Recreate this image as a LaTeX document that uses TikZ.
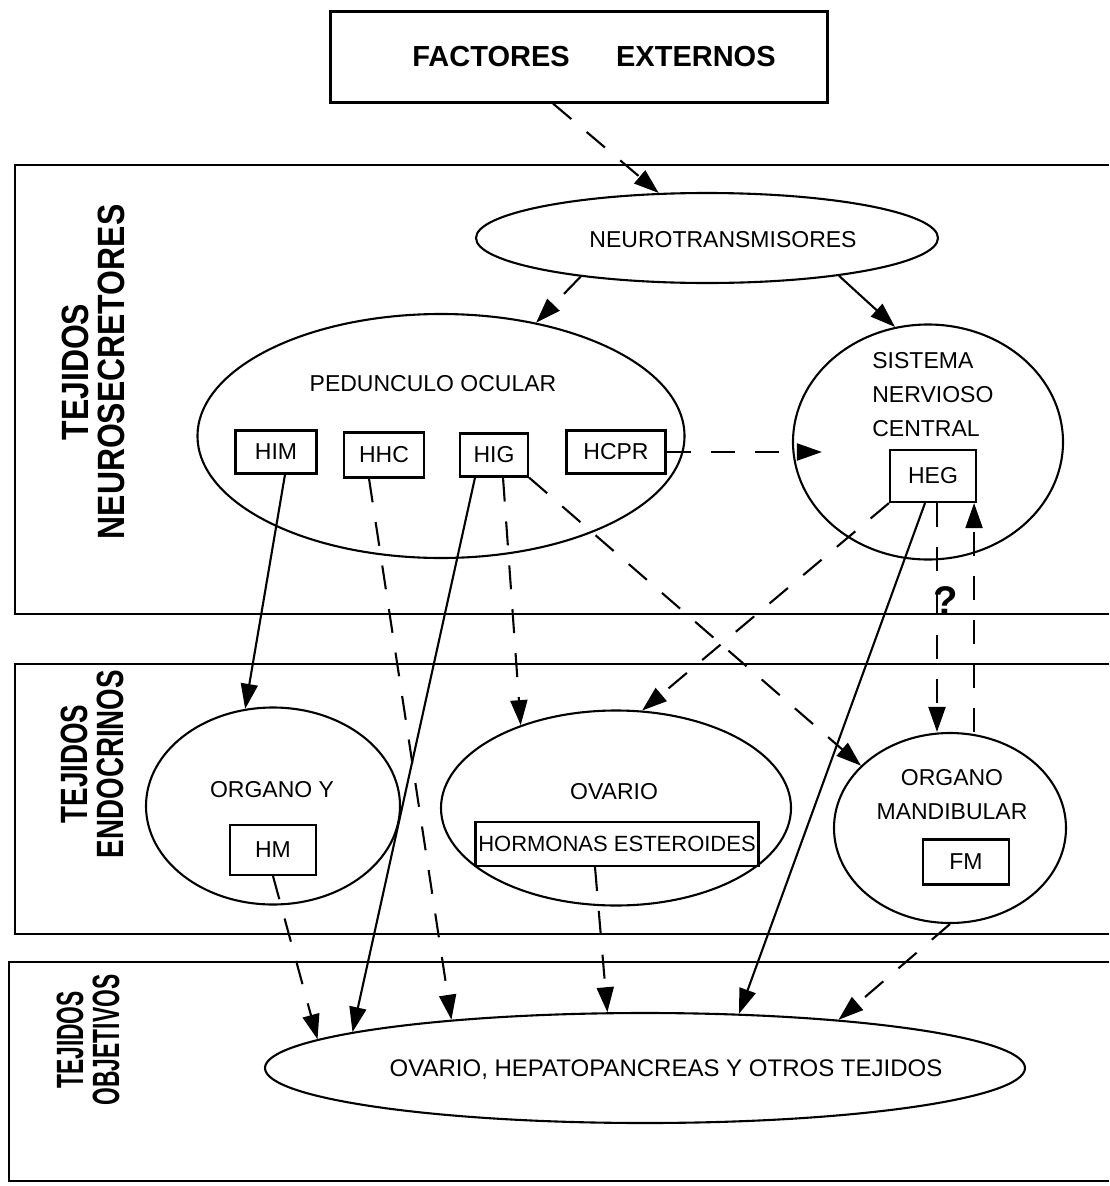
\documentclass[tikz,border=0pt]{standalone}
\usepackage{graphicx}
\usepackage{fontspec}
\setmainfont{Liberation Sans}
\usetikzlibrary{shapes.geometric, arrows.meta, positioning}

\tikzstyle{ovalnode} = [ellipse, draw, inner sep=0pt]
\tikzstyle{hormbox} = [rectangle, draw, inner sep=0pt, font=\fontsize{23}{27}\selectfont]
\tikzstyle{labeltext} = [align=center, font=\fontsize{23}{34}\selectfont]
\tikzstyle{bandtext} = [rotate=90, align=center, font=\bfseries\fontsize{38}{36}\selectfont]
\tikzstyle{dashline} = [dash pattern=on 24pt off 20pt]

\newcommand{\narrow}[2]{\scalebox{#1}[1]{#2}}

\begin{document}
\begin{tikzpicture}[x=1pt, y=-1pt, line width=2.1pt, >={Triangle[length=25pt, width=17pt]}]
        \useasboundingbox (0,0) rectangle (1109,1186);

        % bandas
        \draw (1109,165) -| (15,614) -- (1109,614);
        \draw (1109,664) -| (15,934) -- (1109,934);
        \draw (1109,962) -| (9,1181) -- (1109,1181);
        \node [bandtext] (band1) at (93,372) {\narrow{0.84}{TEJIDOS}\\\narrow{0.84}{NEUROSECRETORES}};
        \node [bandtext] (band2) at (92,764) {\narrow{0.73}{TEJIDOS}\\\narrow{0.73}{ENDOCRINOS}};
        \node [bandtext] (band3) at (88,1040) {\narrow{0.6}{TEJIDOS}\\\narrow{0.6}{OBJETIVOS}};

        \node [draw, minimum width=497pt, minimum height=91pt, font=\bfseries\fontsize{29}{33}\selectfont] (fact) at (579,57) {\hspace*{30pt}FACTORES\hspace{1.6em}EXTERNOS};

        \node [ovalnode, minimum width=462pt, minimum height=90pt] (neuro) at (707,238) {};
        \node [labeltext] (neurotxt) at (723,240) {NEUROTRANSMISORES};

        \node [ovalnode, minimum width=487pt, minimum height=244pt] (ped) at (441,436) {};
        \node [labeltext] (pedtxt) at (433,384) {PEDUNCULO OCULAR};
        \node [hormbox, minimum width=81pt, minimum height=43pt] (him) at (276,452) {HIM};
        \node [hormbox, minimum width=80pt, minimum height=45pt] (hhc) at (384,455) {HHC};
        \node [hormbox, minimum width=68pt, minimum height=43pt] (hig) at (494,455) {HIG};
        \node [hormbox, minimum width=99pt, minimum height=43pt] (hcpr) at (616,452) {HCPR};

        \node [ovalnode, minimum width=270pt, minimum height=235pt] (snc) at (928,442) {};
        \node [labeltext, align=left, anchor=west] (snctxt) at (868,395) {SISTEMA\\NERVIOSO\\CENTRAL};
        \node [hormbox, minimum width=86pt, minimum height=52pt] (heg) at (933,476) {HEG};

        \node [ovalnode, minimum width=254pt, minimum height=197pt] (orgy) at (273,806) {};
        \node [labeltext] (orgytxt) at (272,790) {ORGANO Y};
        \node [hormbox, minimum width=86pt, minimum height=50pt] (hm) at (273,850) {HM};

        \node [ovalnode, minimum width=350pt, minimum height=195pt] (ova) at (616,808) {};
        \node [labeltext] (ovatxt) at (614,792) {OVARIO};
        \node [hormbox, minimum width=283pt, minimum height=44pt, font=\fontsize{22}{26}\selectfont] (horm) at (617,844) {HORMONAS ESTEROIDES};

        \node [ovalnode, minimum width=232pt, minimum height=190pt] (om) at (950,828) {};
        \node [labeltext] (omtxt) at (952,795) {ORGANO\\MANDIBULAR};
        \node [hormbox, minimum width=86pt, minimum height=45pt] (fm) at (966,862) {FM};

        \node [ovalnode, minimum width=760pt, minimum height=110pt] (target) at (645,1068) {};
        \node [labeltext, font=\fontsize{24}{28}\selectfont] (targettxt) at (666,1070) {OVARIO, HEPATOPANCREAS Y OTROS TEJIDOS};

        \node [font=\bfseries\fontsize{40}{44}\selectfont] (q) at (946,601) {?};

        % conexiones
        \draw [dashline, ->] ([xshift=-26pt]fact.south) -- (neuro.137);
        \draw [dashline, ->] (neuro.-163) -- (ped.50);
        \draw [->] (neuro.-16) -- (snc.106);
        \draw [dashline, ->] (hcpr.east) -- (hcpr.east -| snc.west) [shorten >=-30pt];
        \draw [->] ([xshift=9pt]him.south) -- (orgy.106);
        \draw [dashline, ->] ([xshift=-15pt]hhc.south) -- (target.166);
        \draw [->] ([xshift=-19pt]hig.south) -- (target.173);
        \draw [dashline, ->] ([xshift=9pt]hig.south) -- (ova.139);
        \draw [dashline, ->] (hig.south east) -- (om.145);
        \draw [dashline, ->] (heg.south west) -- (ova.75);
        \draw [->] ([xshift=-8pt]heg.south) -- (target.30);
        \draw [dashline, ->] ([xshift=4pt]heg.south) -- ([xshift=4pt]heg.south |- om.north);
        \draw [dashline, ->] ([xshift=-3pt]heg.south east |- om.north) -- ([xshift=-3pt]heg.south east);
        \draw [dashline, ->] (hm.south) -- (target.175);
        \draw [dashline, ->] ([xshift=-22pt]horm.south) -- (target.124);
        \draw [dashline, ->] (om.south) -- (target.14);

    \end{tikzpicture}
\end{document}
